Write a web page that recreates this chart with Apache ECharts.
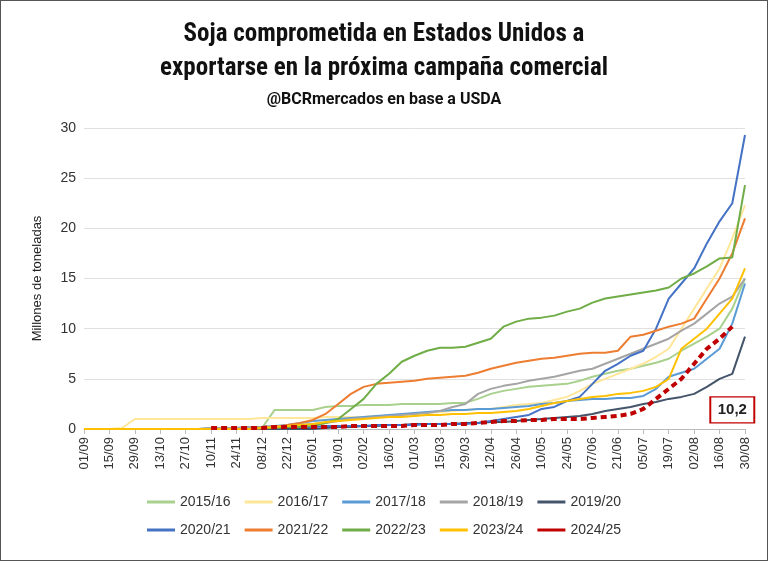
<!DOCTYPE html>
<html><head><meta charset="utf-8">
<script src="https://cdn.jsdelivr.net/npm/echarts@6/dist/echarts.min.js"></script>
<style>html,body{margin:0;padding:0;background:#fff}#c{width:766px;height:559px;border:1px solid #555}</style>
</head><body><div id="c"></div>
<script>
const weeks = ["01/09","08/09","15/09","22/09","29/09","06/10","13/10","20/10","27/10","03/11","10/11","17/11","24/11","01/12","08/12","15/12","22/12","29/12","05/01","12/01","19/01","26/01","02/02","09/02","16/02","23/02","01/03","08/03","15/03","22/03","29/03","05/04","12/04","19/04","26/04","03/05","10/05","17/05","24/05","31/05","07/06","14/06","21/06","28/06","05/07","12/07","19/07","26/07","02/08","09/08","16/08","23/08","30/08"];
const s1516 = [0,0,0,0,0,0,0,0,0,0,0,0,0,0,0.1,1.9,1.9,1.9,1.9,2.2,2.3,2.3,2.4,2.4,2.4,2.5,2.5,2.5,2.5,2.6,2.6,3,3.5,3.8,4,4.2,4.3,4.4,4.5,4.8,5.2,5.5,5.8,6,6.3,6.6,7,7.8,8.5,9.2,10,12,15];
const s1617 = [0,0,0,0.1,1,1,1,1,1,1,1,1,1,1,1.1,1.1,1.1,1.1,1.1,1.2,1.2,1.2,1.2,1.3,1.3,1.4,1.5,1.6,1.7,1.8,1.9,2,2,2.2,2.4,2.5,2.6,2.9,3.2,3.8,4.5,5,5.5,6,6.5,7.2,8,10,12,14,16,19,22.3];
const s1718 = [0,0,0,0,0,0,0,0,0,0,0.1,0.1,0.1,0.2,0.2,0.3,0.4,0.6,0.8,0.9,1,1.1,1.2,1.3,1.4,1.5,1.6,1.7,1.8,1.9,1.9,2,2,2.1,2.2,2.3,2.5,2.6,2.8,2.9,3,3,3.1,3.1,3.3,4,5.2,5.6,6,7,8,10.5,14.5];
const s1819 = [0,0,0,0,0,0,0,0,0,0,0.1,0.1,0.1,0.2,0.2,0.3,0.3,0.4,0.5,0.6,0.8,1,1.1,1.2,1.3,1.4,1.5,1.6,1.8,2.2,2.5,3.5,4,4.3,4.5,4.8,5,5.2,5.5,5.8,6,6.5,7,7.5,8,8.5,9,9.8,10.5,11.5,12.5,13.2,15];
const s1920 = [0,0,0,0,0,0,0,0,0,0,0,0,0,0,0,0,0,0,0,0.1,0.2,0.2,0.3,0.3,0.4,0.4,0.5,0.5,0.5,0.5,0.6,0.6,0.7,0.7,0.8,0.9,1,1.1,1.2,1.3,1.5,1.8,2,2.2,2.5,2.7,3,3.2,3.5,4.2,5,5.5,9.2];
const s2021 = [0,0,0,0,0,0,0,0,0,0,0,0,0,0,0.1,0.1,0.2,0.2,0.2,0.3,0.3,0.3,0.3,0.4,0.4,0.4,0.4,0.5,0.5,0.5,0.5,0.6,0.8,1,1.2,1.4,2,2.2,2.8,3.2,4.5,5.8,6.5,7.3,7.8,10,13,14.5,16,18.5,20.7,22.5,29.3];
const s2122 = [0,0,0,0,0,0,0,0,0,0,0,0,0,0,0.1,0.2,0.4,0.6,0.9,1.5,2.5,3.5,4.2,4.5,4.6,4.7,4.8,5,5.1,5.2,5.3,5.6,6,6.3,6.6,6.8,7,7.1,7.3,7.5,7.6,7.6,7.8,9.2,9.4,9.8,10.2,10.5,11,13,15,17.5,21];
const s2223 = [0,0,0,0,0,0,0,0,0,0,0,0,0,0,0.1,0.1,0.2,0.2,0.3,0.6,1,2,3,4.5,5.5,6.7,7.3,7.8,8.1,8.1,8.2,8.6,9,10.2,10.7,11,11.1,11.3,11.7,12,12.6,13,13.2,13.4,13.6,13.8,14.1,15,15.5,16.2,17,17.1,24.3];
const s2324 = [0,0,0,0,0,0,0,0,0,0,0,0,0,0,0.1,0.2,0.3,0.4,0.5,0.7,0.8,0.9,1,1.1,1.2,1.2,1.3,1.4,1.4,1.5,1.5,1.6,1.6,1.7,1.8,2,2.3,2.6,2.8,3,3.2,3.3,3.5,3.6,3.8,4.2,5,8,9,10,11.5,13,16];
const s2425 = [null,null,null,null,null,null,null,null,null,null,0.1,0.1,0.1,0.1,0.1,0.2,0.2,0.2,0.2,0.2,0.2,0.3,0.3,0.3,0.3,0.3,0.4,0.4,0.4,0.5,0.5,0.6,0.7,0.8,0.8,0.9,0.9,1,1,1,1.1,1.2,1.3,1.5,2,3,4,5,6.5,8,9,10.2,null];
const names = ["2015/16","2016/17","2017/18","2018/19","2019/20","2020/21","2021/22","2022/23","2023/24","2024/25"];
const data = [s1516,s1617,s1718,s1819,s1920,s2021,s2122,s2223,s2324,s2425];
const colors = ["#a9d18e","#ffe699","#5b9bd5","#a5a5a5","#44546a","#4472c4","#ed7d31","#70ad47","#ffc000","#c00000"];
const series = names.map((n,i)=>({
  name:n,type:'line',data:data[i],symbol:'none',smooth:false,
  lineStyle:{width:i===9?4:2,color:colors[i],type:i===9?[6,4]:'solid'},
  itemStyle:{color:colors[i]},z:i===9?10:2,
  markPoint:i===9?{symbol:'rect',symbolSize:[44,26],data:[{coord:[51,1.9],value:'10,2'}],
    itemStyle:{color:'#fff',borderColor:'#c00000',borderWidth:1.5},
    label:{color:'#222',fontWeight:'bold',fontSize:15,fontFamily:'Liberation Sans'}}:undefined
}));
const chart = echarts.init(document.getElementById('c'));
chart.setOption({
  animation:false,
  title:[{text:'Soja comprometida en Estados Unidos a\nexportarse en la próxima campaña comercial',left:'center',top:12,
    textStyle:{fontFamily:'Roboto Condensed, Liberation Sans Narrow, Roboto',fontWeight:'bold',fontSize:25,lineHeight:34,color:'#111'}},
    {text:'@BCRmercados en base a USDA',left:'center',top:86,textStyle:{fontFamily:'Liberation Sans Narrow, Roboto',fontWeight:'bold',fontSize:16,color:'#111'}}],
  grid:{left:83,right:22,top:127,bottom:131},
  legend:{bottom:18,left:'center',width:560,itemWidth:28,itemHeight:3,itemGap:14,
    textStyle:{fontSize:14,color:'#333',fontFamily:'Liberation Sans'},icon:'rect',
    data:names},
  xAxis:{type:'category',data:weeks,boundaryGap:false,
    axisLine:{lineStyle:{color:'#bbb'}},axisTick:{show:true,interval:1,lineStyle:{color:'#bbb'}},
    axisLabel:{interval:1,rotate:90,fontSize:13,color:'#333'}},
  yAxis:{type:'value',min:0,max:30,interval:5,name:'Millones de toneladas',nameLocation:'middle',nameGap:40,
    nameTextStyle:{fontSize:13,color:'#222'},axisLabel:{fontSize:14,color:'#333'},
    splitLine:{lineStyle:{color:'#e0e0e0'}}},
  series
});
</script></body></html>
